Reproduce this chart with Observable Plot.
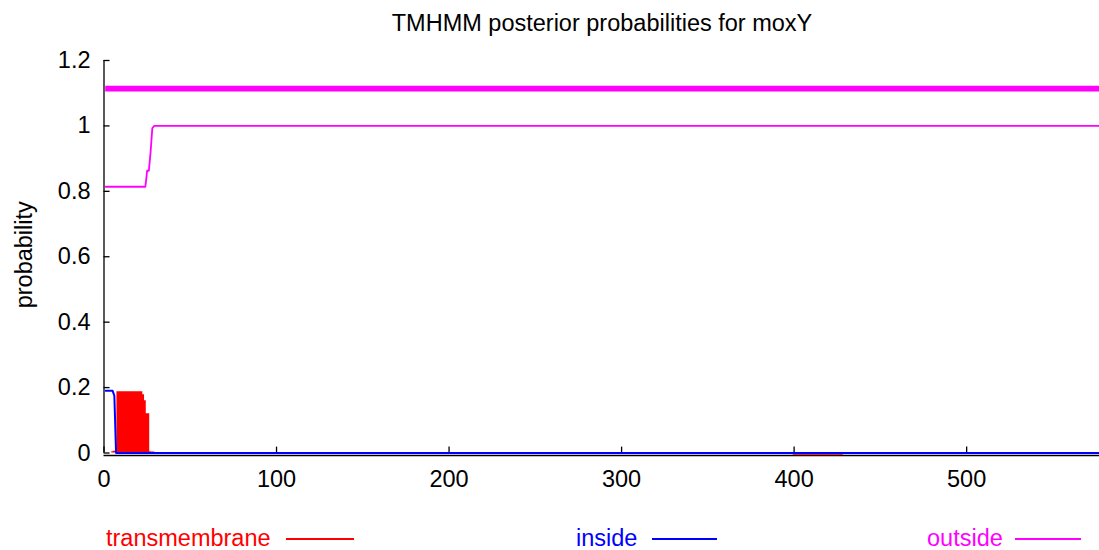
<!DOCTYPE html>
<html>
<head>
<meta charset="utf-8">
<script src="https://cdn.jsdelivr.net/npm/d3@7"></script>
<script src="https://cdn.jsdelivr.net/npm/@observablehq/plot@0.6"></script>
<style>
  html, body { margin: 0; padding: 0; background: #fff; }
  #wrap { position: relative; width: 1099px; height: 550px; overflow: hidden; background: #fff;
          font-family: "Liberation Sans", Arial, Helvetica, sans-serif; font-size: 23.5px; }
  #chart { position: absolute; left: 0; top: 0; }
  .abs { position: absolute; white-space: nowrap; line-height: 23.5px; }
  #title { left: 302px; width: 600px; top: 12px; text-align: center; color: #000; }
  #ylabel { left: -75px; width: 200px; top: 243px; text-align: center; color: #000; transform: rotate(-90deg); transform-origin: 100px 11.75px; }
  .leg { top: 527px; }
  .sw { position: absolute; height: 2px; }
</style>
</head>
<body>
<div id="wrap">
  <div id="chart"></div>
  <div id="title" class="abs">TMHMM posterior probabilities for moxY</div>
  <div id="ylabel" class="abs">probability</div>
  <div id="legend"></div>
</div>
<script>
// ---- data ----
const seqLength = 577;
const xTicks = [0, 100, 200, 300, 400, 500];
const yTicks = [0, 0.2, 0.4, 0.6, 0.8, 1, 1.2];

// posterior probability "inside" (breakpoints, residue -> prob)
const insidePos  = [1, 5, 6, 7, 577];
const insideProb = [0.19, 0.19, 0.175, 0, 0];

// posterior probability "outside"
const outsidePos  = [1, 24, 25, 26, 27, 28, 29, 577];
const outsideProb = [0.814, 0.814, 0.863, 0.863, 0.92, 0.993, 1.0, 1.0];

// posterior probability "transmembrane" (per residue)
const tmPos  = [4, 5, 6, 7, 8, 9, 10, 11, 12, 13, 14, 15, 16, 17, 18, 19, 20, 21, 22, 23, 24, 25, 26, 27, 28, 29, 30];
const tmProb = [0, 0.004, 0.005, 0.006, 0.187, 0.187, 0.187, 0.187, 0.187, 0.187, 0.187, 0.187, 0.187, 0.187, 0.187, 0.187, 0.187, 0.187, 0.187, 0.178, 0.16, 0.12, 0.12, 0.004, 0.003, 0.003, 0];
const tmLatePos  = [399, 400, 401, 402, 403, 404, 405, 406, 407, 408, 409, 410, 411, 412, 413, 414, 415, 416, 417, 418, 419, 420, 421, 422, 423, 424, 425, 426, 427, 428, 429];
const tmLateProb = [0, 0.003, 0.003, 0.003, 0.003, 0.003, 0.003, 0.003, 0.003, 0.003, 0.003, 0.003, 0.003, 0.003, 0.003, 0.003, 0.003, 0.003, 0.003, 0.003, 0.003, 0.003, 0.003, 0.003, 0.003, 0.003, 0.003, 0.003, 0.003, 0.003, 0];

// predicted topology bar (outside over the whole sequence)
const topoStart = [1];
const topoEnd   = [577];
const topoLevel = 1.114;

// legend
const legendLabels = ["transmembrane", "inside", "outside"];
const legendColors = ["#ff0000", "#0000ff", "#ff00ff"];

// ---- build tables ----
const inside  = insidePos.map((x, i) => ({x, y: insideProb[i]}));
const outside = outsidePos.map((x, i) => ({x, y: outsideProb[i]}));
const tm      = tmPos.map((x, i) => ({x, y: tmProb[i]}));
const tmLate  = tmLatePos.map((x, i) => ({x, y: tmLateProb[i]}));
const topo    = topoStart.map((s, i) => ({x1: s, x2: topoEnd[i], y: topoLevel}));

const FONT = '"Liberation Sans", Arial, Helvetica, sans-serif';

const chart = Plot.plot({
  width: 1099,
  height: 500,
  marginLeft: 103.5,
  marginRight: 0,
  marginTop: 60,
  marginBottom: 47.5,
  x: {domain: [0, seqLength]},
  y: {domain: [0, 1.2]},
  style: {fontFamily: FONT, fontSize: "23.5px", color: "#000", background: "#fff", overflow: "visible"},
  marks: [
    Plot.axisX({ticks: xTicks, tickSize: 0, tickPadding: 17.5, tickFormat: d => String(d), label: null, fontSize: "23.5px"}),
    Plot.axisY({ticks: yTicks, tickSize: 0, tickPadding: 13.5, tickFormat: d => String(d), label: null, fontSize: "23.5px"}),
    // topology bar
    Plot.ruleY(topo, {y: "y", x1: "x1", x2: "x2", stroke: "#ff00ff", strokeWidth: 5.7}),
    // outside probability
    Plot.line(outside, {x: "x", y: "y", stroke: "#ff00ff", strokeWidth: 1.8}),
    // frame: left and bottom borders
    Plot.ruleX([0], {y1: 0, y2: 1.2, stroke: "#000", strokeWidth: 1.3}),
    Plot.ruleY([0], {dy: 2.5, stroke: "#000", strokeWidth: 1.6}),
    // inward ticks
    Plot.ruleY(yTicks, {y: d => d, x1: 0, x2: 3.5, stroke: "#000", strokeWidth: 1.3}),
    Plot.ruleX(xTicks, {x: d => d, y1: 0, y2: 0.018, stroke: "#000", strokeWidth: 1.3}),
    // transmembrane (filled impulses)
    Plot.areaY(tm, {x: "x", y: "y", curve: "step", fill: "#ff0000"}),
    Plot.areaY(tmLate, {x: "x", y: "y", curve: "step", fill: "#ff2020", dy: 2.5}),
    // inside probability
    Plot.line(inside, {x: "x", y: "y", stroke: "#0000ff", strokeWidth: 2})
  ]
});
document.getElementById("chart").appendChild(chart);

// legend (HTML below the plot area)
const legendTextX = [106, 576, 927];
const legendLineX = [[286, 354], [652, 717], [1015, 1081]];
const leg = document.getElementById("legend");
legendLabels.forEach((lab, i) => {
  const t = document.createElement("div");
  t.className = "abs leg";
  t.style.left = legendTextX[i] + "px";
  t.style.color = legendColors[i];
  t.textContent = lab;
  leg.appendChild(t);
  const s = document.createElement("div");
  s.className = "sw";
  s.style.left = legendLineX[i][0] + "px";
  s.style.width = (legendLineX[i][1] - legendLineX[i][0]) + "px";
  s.style.top = "538px";
  s.style.background = legendColors[i];
  leg.appendChild(s);
});
</script>
</body>
</html>
